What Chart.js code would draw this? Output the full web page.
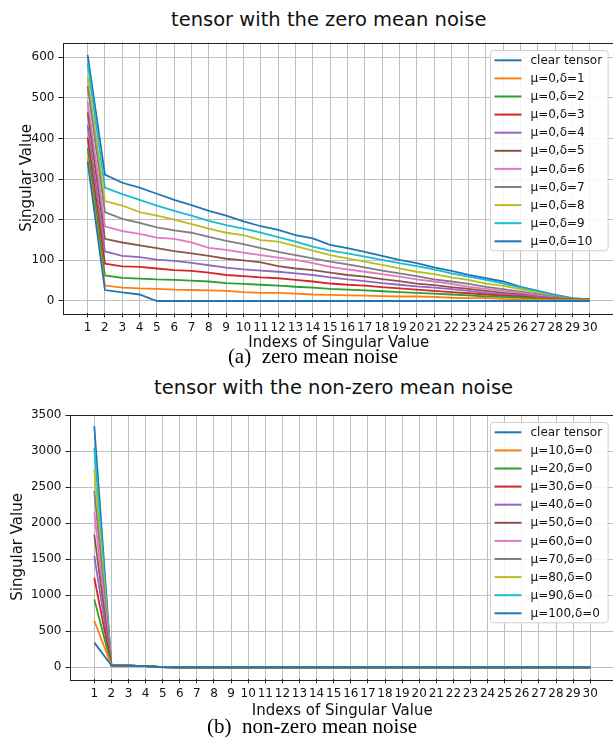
<!DOCTYPE html>
<html>
<head>
<meta charset="utf-8">
<title>singular values</title>
<script src="https://cdn.jsdelivr.net/npm/chart.js@4.4.1/dist/chart.umd.min.js"></script>
<style>
    html, body { margin: 0; padding: 0; background: #fff; }
    body { width: 613px; height: 740px; overflow: hidden; position: relative; font-family: "DejaVu Sans", sans-serif; }
    canvas { position: absolute; left: 0; }
    .title { position: absolute; font-size: 19.5px; line-height: 19.5px; color: #111; white-space: nowrap; }
    .caption { position: absolute; width: 400px; text-align: center; font-family: "Liberation Serif", serif;
               font-size: 21px; line-height: 21px; color: #000; white-space: pre; }
</style>
</head>
<body>
<div class="title" style="left:171px; top:9.5px;">tensor with the zero mean noise</div>
<canvas id="chartA" width="616" height="356" style="top:0;"></canvas>
<div class="caption" style="left:113px; top:346px;">(a)  zero mean noise</div>

<div class="title" style="left:154px; top:377.5px;">tensor with the non-zero mean noise</div>
<canvas id="chartB" width="616" height="340" style="top:380px;"></canvas>
<div class="caption" style="left:112px; top:716px;">(b)  non-zero mean noise</div>

<script>
// 横轴：奇异值序号
const indexes = [1, 2, 3, 4, 5, 6, 7, 8, 9, 10, 11, 12, 13, 14, 15, 16, 17, 18, 19, 20,
                 21, 22, 23, 24, 25, 26, 27, 28, 29, 30];

// 纵轴刻度
const yTicksA = [0, 100, 200, 300, 400, 500, 600];
const yTicksB = [0, 500, 1000, 1500, 2000, 2500, 3000, 3500];

// matplotlib tab10
const colors = ['#1f77b4', '#ff7f0e', '#2ca02c', '#d62728', '#9467bd', '#8c564b',
                '#e377c2', '#7f7f7f', '#bcbd22', '#17becf', '#1f77b4'];

// (a) 零均值噪声
const labelsA = ['clear tensor', 'μ=0,δ=1', 'μ=0,δ=2', 'μ=0,δ=3', 'μ=0,δ=4', 'μ=0,δ=5',
                 'μ=0,δ=6', 'μ=0,δ=7', 'μ=0,δ=8', 'μ=0,δ=9', 'μ=0,δ=10'];
const clearA = [343, 27, 21, 16, 0, 0, 0, 0, 0, 0, 0, 0, 0, 0, 0, 0, 0, 0, 0, 0, 0, 0, 0, 0, 0, 0, 0, 0, 0, 0];
const d1  = [351, 38, 33, 31, 30, 28, 27, 26, 25, 22, 20, 20, 18, 16, 15, 14, 13, 12, 11, 11, 10, 8, 7, 7, 5, 4, 3, 2, 2, 2];
const d2  = [376, 63, 57, 55, 53, 52, 50, 48, 44, 42, 40, 38, 35, 33, 30, 28, 26, 24, 22, 20, 18, 16, 14, 11, 10, 8, 6, 3, 3, 3];
const d3  = [403, 92, 85, 84, 80, 76, 74, 70, 64, 61, 58, 56, 52, 48, 43, 40, 38, 34, 31, 28, 25, 22, 19, 16, 13, 11, 7, 4, 3, 3];
const d4  = [433, 122, 111, 108, 102, 99, 94, 88, 82, 78, 75, 72, 68, 64, 58, 53, 49, 44, 40, 36, 33, 29, 25, 20, 17, 14, 10, 6, 3, 3];
const d5  = [464, 153, 144, 137, 130, 123, 117, 111, 104, 100, 95, 86, 80, 76, 70, 64, 60, 54, 49, 43, 39, 34, 30, 25, 20, 16, 11, 7, 4, 3];
const d6  = [491, 184, 172, 165, 156, 153, 144, 131, 126, 119, 113, 107, 101, 93, 84, 78, 72, 66, 60, 53, 48, 42, 35, 30, 25, 20, 14, 8, 4, 3];
const d7  = [528, 219, 202, 192, 181, 174, 168, 158, 148, 140, 130, 121, 113, 105, 97, 90, 83, 75, 68, 61, 53, 48, 42, 35, 29, 23, 16, 10, 5, 3];
const d8  = [553, 246, 235, 219, 210, 200, 189, 178, 168, 162, 150, 146, 135, 124, 113, 105, 97, 89, 80, 72, 66, 58, 52, 43, 37, 29, 20, 11, 5, 3];
const d9  = [585, 279, 263, 249, 235, 222, 210, 197, 187, 178, 168, 157, 146, 134, 124, 117, 109, 101, 93, 86, 78, 68, 60, 52, 43, 33, 23, 13, 6, 3];
const d10 = [606, 311, 291, 279, 264, 249, 236, 222, 210, 196, 184, 175, 162, 154, 138, 130, 121, 111, 101, 93, 83, 74, 64, 56, 48, 35, 25, 15, 7, 4];

// (b) 非零均值噪声
const labelsB = ['clear tensor', 'μ=10,δ=0', 'μ=20,δ=0', 'μ=30,δ=0', 'μ=40,δ=0', 'μ=50,δ=0',
                 'μ=60,δ=0', 'μ=70,δ=0', 'μ=80,δ=0', 'μ=90,δ=0', 'μ=100,δ=0'];
const clearB = [342, 27, 21, 16, 0, 0, 0, 0, 0, 0, 0, 0, 0, 0, 0, 0, 0, 0, 0, 0, 0, 0, 0, 0, 0, 0, 0, 0, 0, 0];
const m10  = [646, 27, 21, 16, 1, 0, 0, 0, 0, 0, 0, 0, 0, 0, 0, 0, 0, 0, 0, 0, 0, 0, 0, 0, 0, 0, 0, 0, 0, 0];
const m20  = [942, 27, 21, 16, 1, 0, 0, 0, 0, 0, 0, 0, 0, 0, 0, 0, 0, 0, 0, 0, 0, 0, 0, 0, 0, 0, 0, 0, 0, 0];
const m30  = [1242, 27, 21, 16, 1, 0, 0, 0, 0, 0, 0, 0, 0, 0, 0, 0, 0, 0, 0, 0, 0, 0, 0, 0, 0, 0, 0, 0, 0, 0];
const m40  = [1547, 27, 21, 16, 1, 0, 0, 0, 0, 0, 0, 0, 0, 0, 0, 0, 0, 0, 0, 0, 0, 0, 0, 0, 0, 0, 0, 0, 0, 0];
const m50  = [1842, 27, 21, 16, 1, 0, 0, 0, 0, 0, 0, 0, 0, 0, 0, 0, 0, 0, 0, 0, 0, 0, 0, 0, 0, 0, 0, 0, 0, 0];
const m60  = [2147, 27, 21, 16, 1, 0, 0, 0, 0, 0, 0, 0, 0, 0, 0, 0, 0, 0, 0, 0, 0, 0, 0, 0, 0, 0, 0, 0, 0, 0];
const m70  = [2447, 27, 21, 16, 1, 0, 0, 0, 0, 0, 0, 0, 0, 0, 0, 0, 0, 0, 0, 0, 0, 0, 0, 0, 0, 0, 0, 0, 0, 0];
const m80  = [2742, 27, 21, 16, 1, 0, 0, 0, 0, 0, 0, 0, 0, 0, 0, 0, 0, 0, 0, 0, 0, 0, 0, 0, 0, 0, 0, 0, 0, 0];
const m90  = [3042, 27, 21, 16, 1, 0, 0, 0, 0, 0, 0, 0, 0, 0, 0, 0, 0, 0, 0, 0, 0, 0, 0, 0, 0, 0, 0, 0, 0, 0];
const m100 = [3347, 27, 21, 16, 1, 0, 0, 0, 0, 0, 0, 0, 0, 0, 0, 0, 0, 0, 0, 0, 0, 0, 0, 0, 0, 0, 0, 0, 0, 0];

const FONT = '"DejaVu Sans", sans-serif';
const GRID = '#bfbfbf';

// 坐标框（四边）
const framePlugin = {
    id: 'frame',
    afterDatasetsDraw(chart) {
        const {ctx, chartArea: a} = chart;
        ctx.save();
        ctx.strokeStyle = '#222';
        ctx.lineWidth = 1;
        ctx.strokeRect(Math.round(a.left) + 0.5, Math.round(a.top) + 0.5,
                       Math.round(a.right - a.left), Math.round(a.bottom - a.top));
        ctx.restore();
    }
};

// 右上角图例（matplotlib 风格）
const legendPlugin = {
    id: 'boxLegend',
    afterDraw(chart) {
        const {ctx, chartArea: a} = chart;
        const sets = chart.data.datasets;
        const rowH = 18.1, first = 9.8, padBottom = 9.5;
        const padLeft = 4, lineLen = 27, gap = 9, padRight = 6;
        ctx.save();
        ctx.font = '12px ' + FONT;
        const textW = Math.max(...sets.map(d => ctx.measureText(d.label).width));
        const w = padLeft + lineLen + gap + textW + padRight;
        const h = first + (sets.length - 1) * rowH + padBottom;
        const x = Math.round(a.right - 7 - w) + 0.5;
        const y = Math.round(a.top + 7.5) + 0.5;

        ctx.beginPath();
        ctx.roundRect(x, y, w, h, 3);
        ctx.fillStyle = 'rgba(255,255,255,0.85)';
        ctx.fill();
        ctx.strokeStyle = '#d0d0d0';
        ctx.lineWidth = 1;
        ctx.stroke();

        ctx.textBaseline = 'middle';
        ctx.textAlign = 'left';
        sets.forEach((d, i) => {
            const cy = y + first + i * rowH;
            ctx.beginPath();
            ctx.moveTo(x + padLeft, cy);
            ctx.lineTo(x + padLeft + lineLen, cy);
            ctx.strokeStyle = d.borderColor;
            ctx.lineWidth = 2;
            ctx.stroke();
            ctx.fillStyle = '#111';
            ctx.fillText(d.label, x + padLeft + lineLen + gap, cy + 0.5);
        });
        ctx.restore();
    }
};

function makeChart(id, labels, series, yTicks, yMin, yMax, opts) {
    const datasets = series.map((values, i) => ({
        label: labels[i],
        data: values.map((v, k) => ({x: indexes[k], y: v})),
        borderColor: colors[i],
        backgroundColor: colors[i],
        borderWidth: 1.8,
        pointRadius: 0,
        tension: 0,
        fill: false
    }));

    return new Chart(document.getElementById(id).getContext('2d'), {
        type: 'line',
        data: {datasets: datasets},
        options: {
            responsive: false,
            animation: false,
            layout: {padding: {top: opts.padTop, left: 0, right: 1, bottom: 0}},
            plugins: {legend: {display: false}, tooltip: {enabled: false}, title: {display: false}},
            scales: {
                x: {
                    type: 'linear',
                    min: 1 - 1.45,
                    max: 30 + 1.45,
                    afterBuildTicks: s => { s.ticks = indexes.map(v => ({value: v})); },
                    afterFit: s => { s.height = opts.xHeight; },
                    border: {display: false},
                    grid: {color: GRID, lineWidth: 1, tickLength: 4, tickColor: '#222', drawTicks: true},
                    ticks: {autoSkip: false, maxRotation: 0, minRotation: 0, padding: 3,
                            color: '#111', font: {family: FONT, size: 12}, callback: v => String(v)},
                    title: {display: true, text: 'Indexs of Singular Value', color: '#111',
                            font: {family: FONT, size: 15}, padding: {top: 0, bottom: opts.xTitlePad}}
                },
                y: {
                    type: 'linear',
                    min: yMin,
                    max: yMax,
                    afterBuildTicks: s => { s.ticks = yTicks.map(v => ({value: v})); },
                    afterFit: s => { s.width = opts.yWidth; },
                    border: {display: false},
                    grid: {color: GRID, lineWidth: 1, tickLength: 4, tickColor: '#222', drawTicks: true},
                    ticks: {padding: 4, color: '#111', font: {family: FONT, size: 12}, callback: v => String(v)},
                    title: {display: true, text: 'Singular Value', color: '#111',
                            font: {family: FONT, size: 15}, padding: {top: opts.yTitlePad, bottom: 0}}
                }
            }
        },
        plugins: [framePlugin, legendPlugin]
    });
}

document.fonts.ready.then(function() {
    makeChart('chartA', labelsA, [clearA, d1, d2, d3, d4, d5, d6, d7, d8, d9, d10],
              yTicksA, -30.3, 636.3,
              {padTop: 42.5, xHeight: 42.7, yWidth: 62.5, xTitlePad: 4, yTitlePad: 18});
    makeChart('chartB', labelsB, [clearB, m10, m20, m30, m40, m50, m60, m70, m80, m90, m100],
              yTicksB, -167, 3507,
              {padTop: 34.5, xHeight: 40.7, yWidth: 69.5, xTitlePad: 0, yTitlePad: 9});
});
</script>
</body>
</html>
